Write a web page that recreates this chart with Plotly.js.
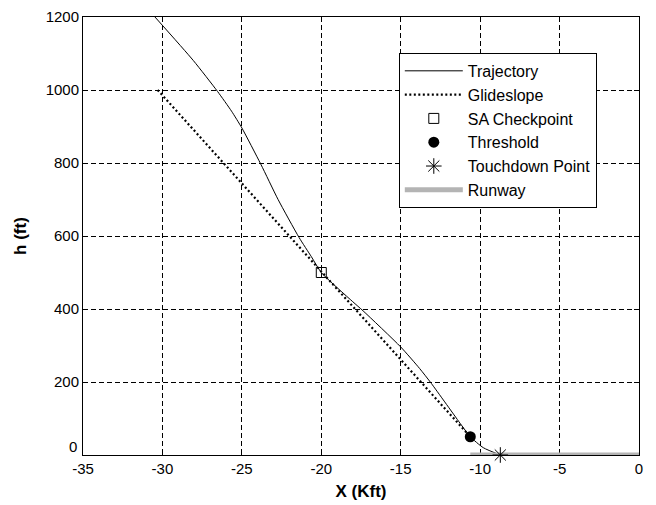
<!DOCTYPE html>
<html>
<head>
<meta charset="utf-8">
<script src="https://cdn.plot.ly/plotly-3.0.1.min.js"></script>
<style>
  html, body { margin: 0; padding: 0; background: #ffffff; }
  #chart { width: 656px; height: 505px; }
</style>
</head>
<body>
<div id="chart"></div>
<script>
// Approach trajectory (X in Kft, h in ft)
const trajX = [-30.47, -28.06, -26.53, -25.65, -25.0, -23.81, -22.72, -21.4, -20.62, -20.0, -18.02, -17.37, -15.0, -13.81, -13.07, -11.18, -10.62, -9.8, -8.73];
const trajH = [1200, 1081, 996, 942, 896, 797, 700, 596, 543, 500, 420, 395, 296, 237, 196, 82, 50, 20, 0];

// Glideslope reference line
const glideX = [-30.3, -10.62];
const glideH = [1000, 50];

// Key points
const checkpointX = [-20.0];
const checkpointH = [500];
const thresholdX = [-10.62];
const thresholdH = [50];
const touchdownX = [-8.73];
const touchdownH = [0];

// Runway extent
const runwayX = [-10.62, 0];
const runwayH = [0, 0];

// Tick positions and labels (plain hyphen minus signs)
const xTickVals = [-35, -30, -25, -20, -15, -10, -5, 0];
const xTickText = ['-35', '-30', '-25', '-20', '-15', '-10', '-5', '0'];
const yTickVals = [0, 200, 400, 600, 800, 1000, 1200];
const yTickText = ['', '200', '400', '600', '800', '1000', '1200'];
const yZeroLabel = '0';

const FONT = 'Liberation Sans, Arial, Helvetica, sans-serif';

const traces = [
  { x: trajX, y: trajH, name: 'Trajectory', mode: 'lines', legendrank: 1,
    line: { color: '#000000', width: 1, shape: 'spline', smoothing: 0.6 } },
  { x: glideX, y: glideH, name: 'Glideslope', mode: 'lines', legendrank: 2,
    line: { color: '#000000', width: 2.2, dash: '2px,2.5px' } },
  { x: checkpointX, y: checkpointH, name: 'SA Checkpoint', mode: 'markers', legendrank: 3,
    marker: { symbol: 'square-open', size: 10, color: '#000000', line: { width: 1, color: '#000000' } } },
  { x: thresholdX, y: thresholdH, name: 'Threshold', mode: 'markers', legendrank: 4,
    marker: { symbol: 'circle', size: 11, color: '#000000' } },
  { x: runwayX, y: runwayH, name: 'Runway', mode: 'lines', legendrank: 6,
    line: { color: '#b4b4b4', width: 5 } },
  { x: touchdownX, y: touchdownH, name: 'Touchdown Point', mode: 'markers', legendrank: 5,
    cliponaxis: false,
    marker: { symbol: 'asterisk-open', size: 13, color: '#000000', line: { width: 1, color: '#000000' } } }
];

const axisCommon = {
  showline: true, linecolor: '#000000', linewidth: 1,
  mirror: 'ticks', ticks: 'inside', ticklen: 5, tickcolor: '#000000', tickwidth: 1,
  showgrid: true, gridcolor: '#000000', gridwidth: 1, griddash: '5px,3px',
  zeroline: false, layer: 'below traces', tickmode: 'array',
  tickfont: { family: FONT, size: 15, color: '#000000' }
};

const layout = {
  width: 656, height: 505,
  paper_bgcolor: '#ffffff', plot_bgcolor: '#ffffff',
  margin: { l: 83, r: 17, t: 17, b: 50 },
  showlegend: true,
  font: { family: FONT, color: '#000000' },
  xaxis: Object.assign({}, axisCommon, {
    range: [-35, 0], tickvals: xTickVals, ticktext: xTickText,
    title: { text: 'X (Kft)', font: { family: FONT, size: 17, weight: 'bold', color: '#000000' }, standoff: 9 }
  }),
  yaxis: Object.assign({}, axisCommon, {
    range: [0, 1200], tickvals: yTickVals, ticktext: yTickText,
    title: { text: 'h (ft)', font: { family: FONT, size: 17, weight: 'bold', color: '#000000' }, standoff: 14 }
  }),
  // bottom y label sits a little higher so it clears the x labels
  annotations: [{
    text: yZeroLabel, xref: 'paper', yref: 'y', x: 0, y: 0, yshift: 9,
    xanchor: 'right', yanchor: 'middle', xshift: -4, showarrow: false,
    font: { family: FONT, size: 15, color: '#000000' }
  }],
  legend: {
    x: 0.568, y: 0.918, xanchor: 'left', yanchor: 'top',
    bgcolor: '#ffffff', bordercolor: '#000000', borderwidth: 1,
    font: { family: FONT, size: 16, color: '#000000' },
    traceorder: 'normal', itemwidth: 58
  }
};

Plotly.newPlot('chart', traces, layout, { displayModeBar: false, staticPlot: true });
</script>
</body>
</html>
